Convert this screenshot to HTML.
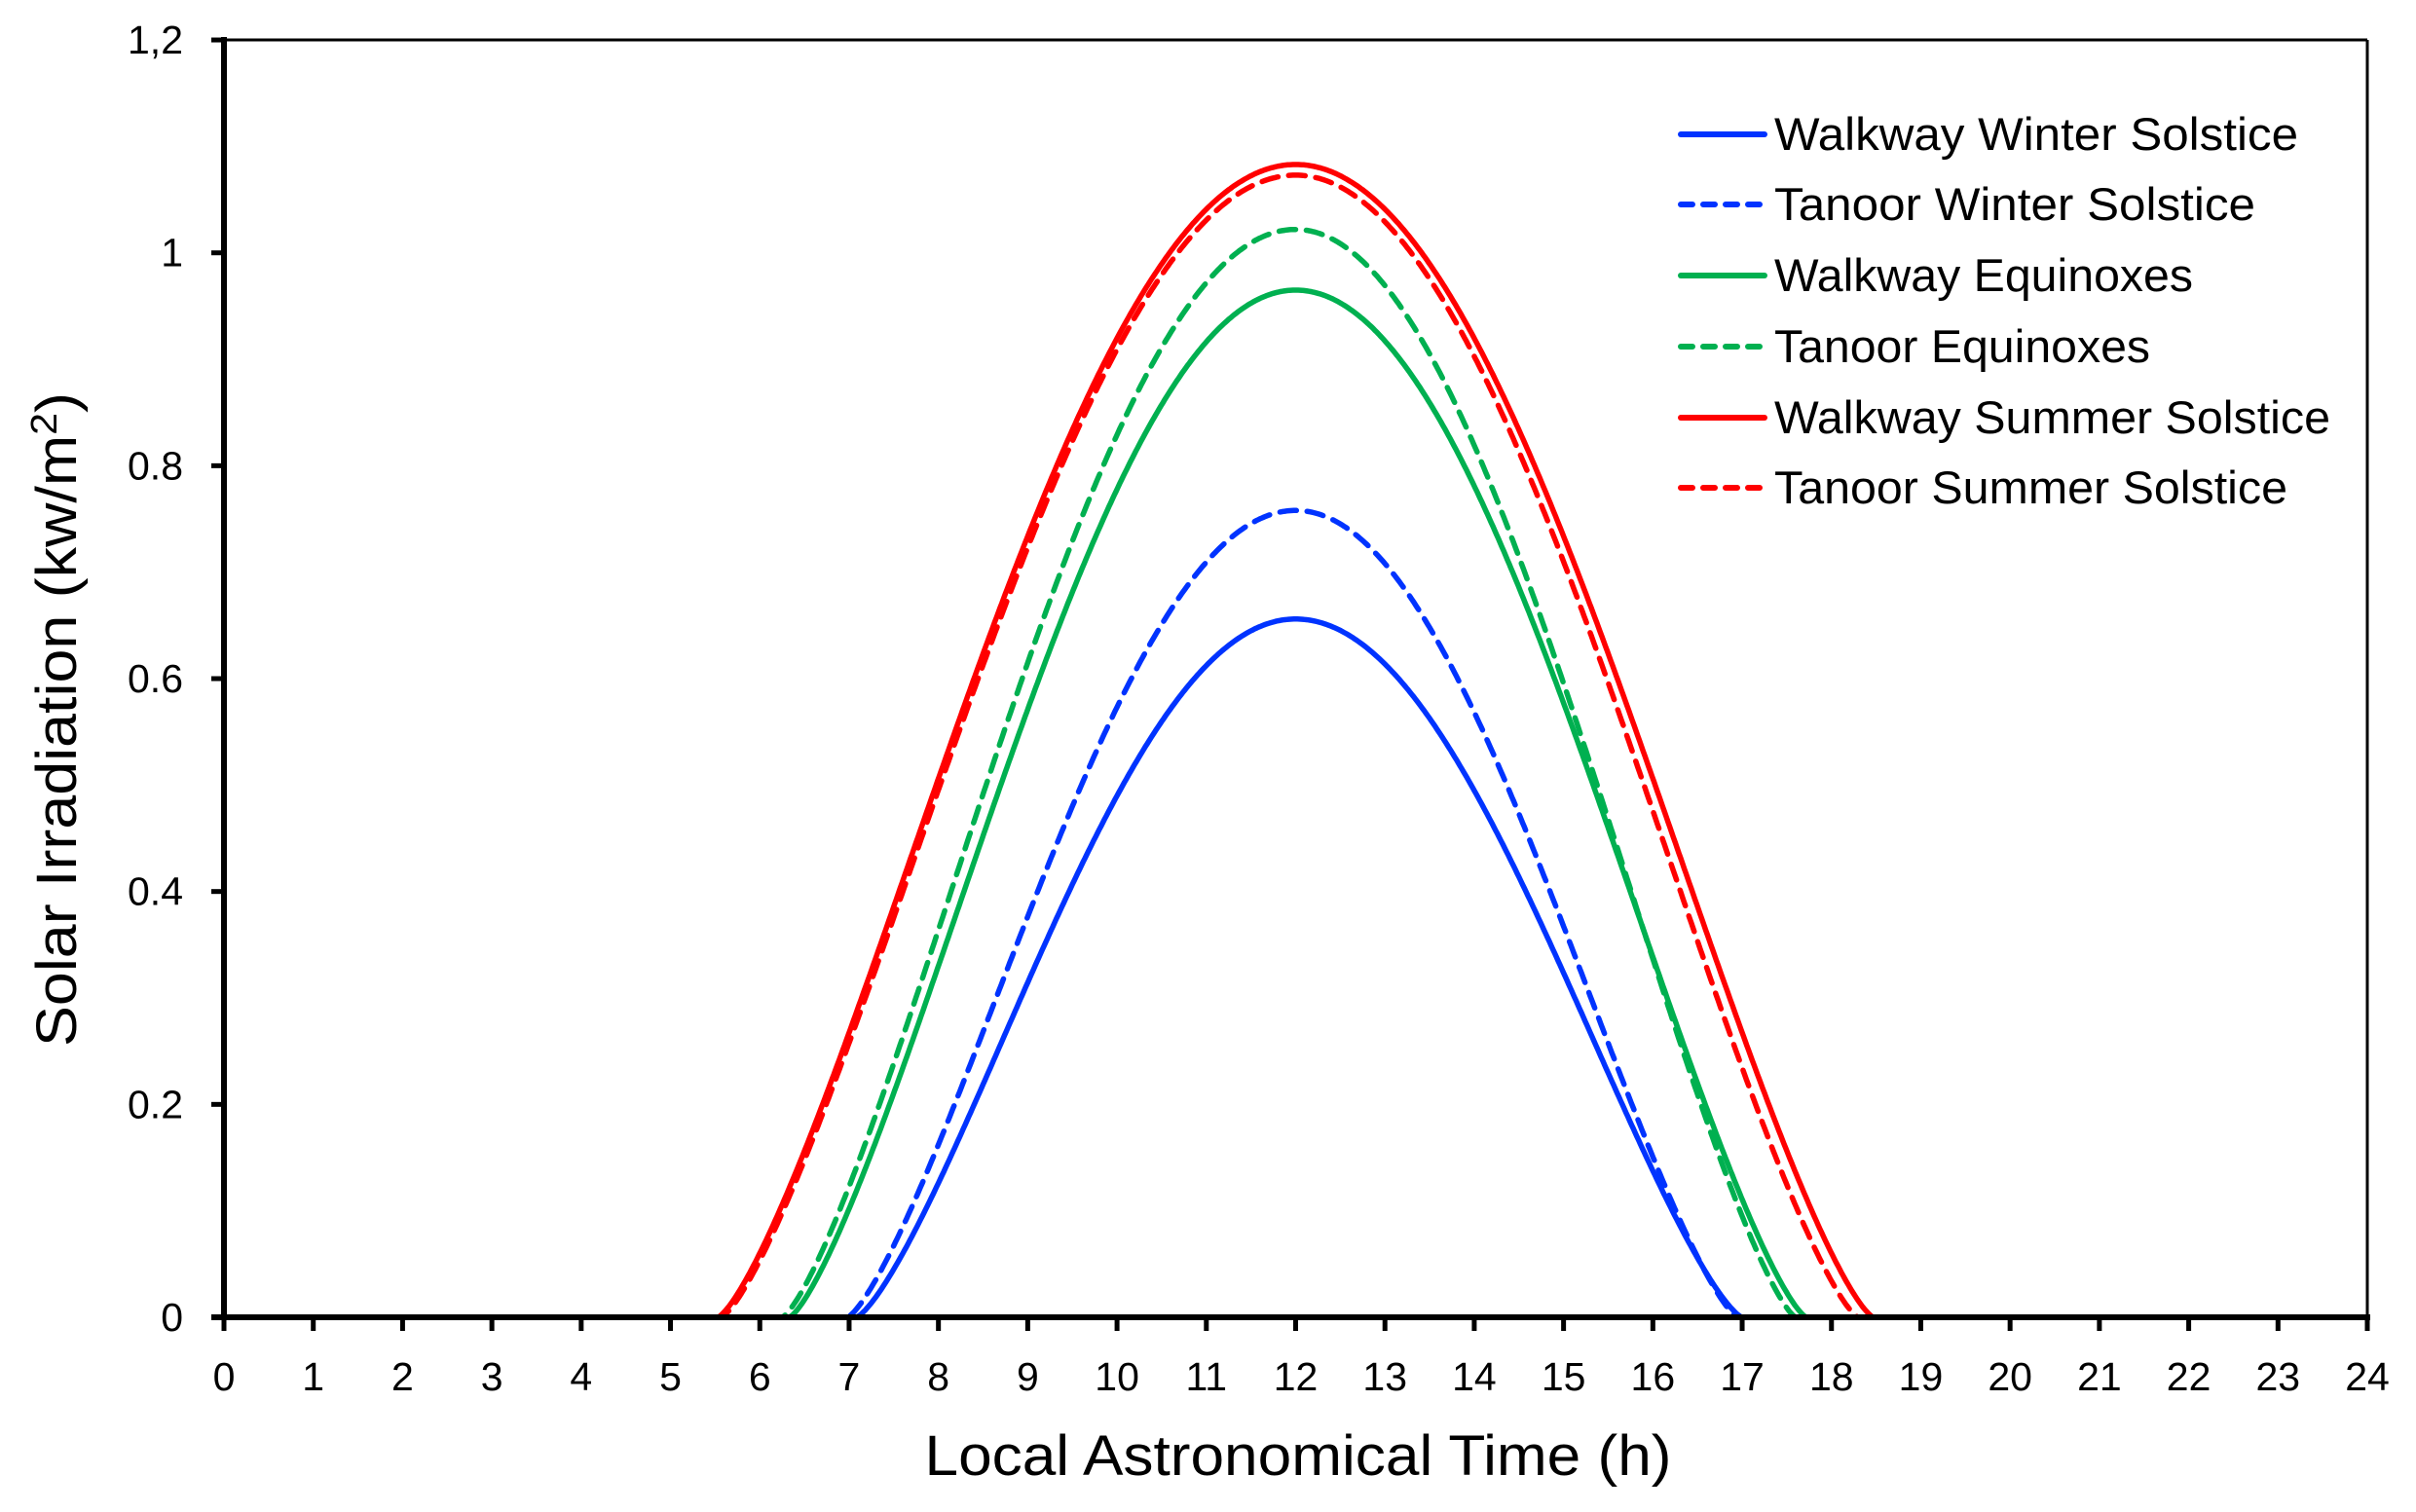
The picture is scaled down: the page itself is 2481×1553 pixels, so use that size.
<!DOCTYPE html>
<html><head><meta charset="utf-8"><style>
html,body{margin:0;padding:0;background:#fff;}
svg{display:block;font-family:"Liberation Sans",sans-serif;}
</style></head><body>
<svg id="s" width="2481" height="1553" viewBox="0 0 2481 1553" xmlns="http://www.w3.org/2000/svg">
<rect width="2481" height="1553" fill="#fff"/>
<g id="curves" fill="none" stroke-width="5.5" stroke-linecap="round"></g>
<line x1="230" y1="41" x2="2431" y2="41" stroke="#000" stroke-width="3"/>
<line x1="2431" y1="41" x2="2431" y2="1353" stroke="#000" stroke-width="3"/>
<line x1="230" y1="38" x2="230" y2="1356" stroke="#000" stroke-width="6"/>
<line x1="217" y1="1353" x2="2434" y2="1353" stroke="#000" stroke-width="6"/>
<g id="ticks" stroke="#000" stroke-width="5"></g>
<g id="labels" font-size="41" fill="#000"></g>
<text x="1333" y="1515" font-size="58" text-anchor="middle" textLength="767" lengthAdjust="spacingAndGlyphs">Local Astronomical Time (h)</text>
<text transform="translate(78,739) rotate(-90)" font-size="58" text-anchor="middle" textLength="672" lengthAdjust="spacingAndGlyphs">Solar Irradiation (kw/m<tspan dy="-20" font-size="38">2</tspan><tspan dy="20">)</tspan></text>
<g id="legend" font-size="47"></g>
</svg>
<script>
var X=function(t){return 230+t*(2201/24);};
var Y=function(v){return 1353-v*1093.3;};
var ns="http://www.w3.org/2000/svg";
function el(n,a,p,txt){var e=document.createElementNS(ns,n);for(var k in a)e.setAttribute(k,a[k]);if(txt!==undefined)e.textContent=txt;p.appendChild(e);return e;}
var tk=document.getElementById('ticks'),lb=document.getElementById('labels');
for(var i=0;i<=24;i++){el('line',{x1:X(i),y1:1353,x2:X(i),y2:1367},tk);el('text',{x:X(i),y:1428,'text-anchor':'middle'},lb,''+i);}
var yl=['0','0.2','0.4','0.6','0.8','1','1,2'];
for(var j=0;j<=6;j++){var yy=Y(j*0.2);el('line',{x1:217,y1:yy,x2:230,y2:yy},tk);el('text',{x:188,y:yy+14,'text-anchor':'end'},lb,yl[j]);}
var series=[
 ['#0033ff',0,0.656,7.08,17.0,'Walkway Winter Solstice',538],
 ['#0033ff',1,0.758,6.98,16.95,'Tanoor Winter Solstice',494],
 ['#00b050',0,0.965,6.33,17.72,'Walkway Equinoxes',430],
 ['#00b050',1,1.022,6.25,17.6,'Tanoor Equinoxes',386],
 ['#ff0000',0,1.083,5.53,18.47,'Walkway Summer Solstice',571],
 ['#ff0000',1,1.073,5.57,18.3,'Tanoor Summer Solstice',527]];
var cg=document.getElementById('curves'),lg=document.getElementById('legend');
var order=[0,1,2,3,5,4];
order.forEach(function(k){var s=series[k];var d='M'+X(0)+','+Y(0)+' L'+X(s[3])+','+Y(0);
 for(var t=s[3];t<=s[4];t+=0.02){var h=t<12?12-s[3]:s[4]-12;var u=Math.abs(t-12)/h;if(u>1)u=1;var v=s[2]*Math.pow(Math.cos(Math.PI/2*u),1.33);d+=' L'+X(t).toFixed(1)+','+Y(v).toFixed(1);}
 d+=' L'+X(s[4])+','+Y(0)+' L'+X(24)+','+Y(0);
 var a={d:d,stroke:s[0]};if(s[1])a['stroke-dasharray']='17 11';el('path',a,cg);});
var ry=[138,210,283,356,429,501];
series.forEach(function(s,i){var a={x1:1726,y1:ry[i],x2:1812,y2:ry[i],stroke:s[0],'stroke-width':6,'stroke-linecap':'round'};if(s[1])a['stroke-dasharray']='12 11';el('line',a,lg);el('text',{x:1822,y:ry[i]+16,fill:'#000',textLength:s[6],lengthAdjust:'spacingAndGlyphs'},lg,s[5]);});
</script>
</body></html>
